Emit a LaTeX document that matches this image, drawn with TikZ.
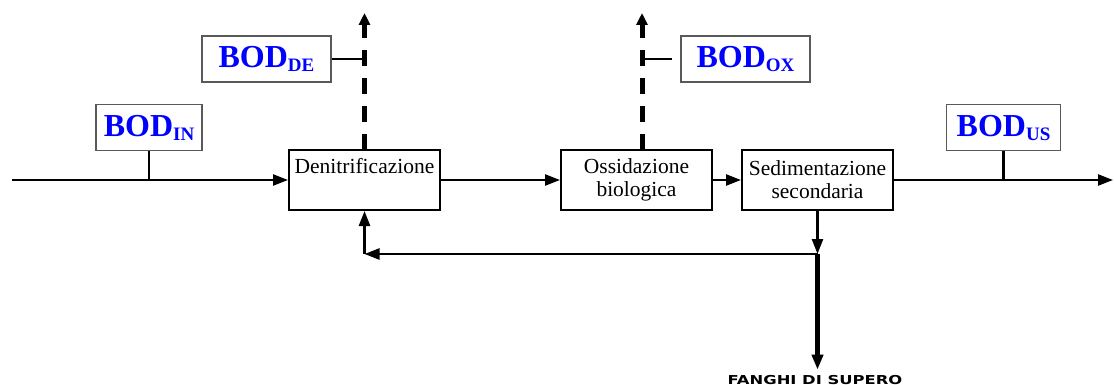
\documentclass[tikz,border=0pt]{standalone}
\usepackage{fontspec}
\setmainfont{Liberation Serif}
\newfontfamily\wastefont{DejaVu Sans}
\usetikzlibrary{arrows.meta,calc}
\tikzset{
  proc/.style={draw=black, line width=2pt, minimum width=151pt, minimum height=60pt,
    inner sep=0pt, align=center, font=\fontsize{21.5}{23}\selectfont},
  bodbox/.style={draw=black!65, line width=1.4pt, minimum height=46pt, inner sep=0pt,
    text=blue, font=\fontsize{32}{32}\selectfont\bfseries},
  flow/.style={line width=2.4pt, -{Triangle[length=15pt,width=11pt]}},
  tie/.style={line width=2.4pt},
  gas/.style={line width=5pt, dash pattern=on 16pt off 12pt, -{Triangle[length=12pt,width=11pt]}},
  waste/.style={line width=4.5pt, -{Triangle[length=15pt,width=11pt]}}
}
\newcommand{\bodsub}[1]{BOD\raisebox{-4pt}{\fontsize{19}{19}\selectfont #1}}
\begin{document}
\begin{tikzpicture}[x=1pt,y=-1pt]
\useasboundingbox (0,0) rectangle (1114,385);
% process boxes
\node[proc] (deni) at (364.5,180) {Denitrificazione\\\phantom{g}};
\node[proc] (ossi) at (636.5,180) {Ossidazione\\biologica};
\node[proc] (sedi) at (817.5,180) {Sedimentazione\\secondaria};
% BOD boxes
\node[bodbox, minimum width=106pt] (bodin) at (149,127.5) {\bodsub{IN}};
\node[bodbox, minimum width=129pt] (bodde) at (266.5,59) {\bodsub{DE}};
\node[bodbox, minimum width=129pt] (bodox) at (745.5,59) {\bodsub{OX}};
\node[bodbox, minimum width=114pt] (bodus) at (1003.5,127.5) {\bodsub{US}};
% coordinates
\coordinate (in) at (12,180);
\coordinate (out) at (1113,180);
\coordinate (deup) at (364.5,13);
\coordinate (debase) at (364.5,150);
\coordinate (oxup) at (642,13);
\coordinate (oxbase) at (642,150);
\coordinate (split) at (817.5,254);
\coordinate (recyc) at (364.5,254);
% main flow
\draw[flow] (in) -- (deni.west);
\draw[flow] (deni.east) -- (ossi.west);
\draw[flow] (ossi.east) -- (sedi.west);
\draw[flow] (sedi.east) -- (out);
% BOD ties
\draw[tie] (bodin.south) -- (bodin.south |- in);
\draw[tie] (bodus.south) -- (bodus.south |- out);
% gas outlets
\draw[gas] (debase) -- (deup);
\draw[gas] (oxbase) -- (oxup);
\draw[tie] (bodde.east) -- (bodde.east -| deup);
\draw[tie, shorten <=8pt] (bodox.west) -- (bodox.west -| oxup);
% recycle
\draw[flow] (sedi.south) -- (split);
\draw[flow] (split) -- (recyc);
\draw[flow] (recyc) -- (deni.south);
% waste sludge
\node[anchor=base, inner sep=0pt] (fanghi) at (815,384)
  {\scalebox{1.33}[1]{\wastefont\bfseries\fontsize{12.3}{12.3}\selectfont FANGHI DI SUPERO}};
\draw[waste, shorten >=5pt] (split) -- (split |- fanghi.north);
\end{tikzpicture}
\end{document}
